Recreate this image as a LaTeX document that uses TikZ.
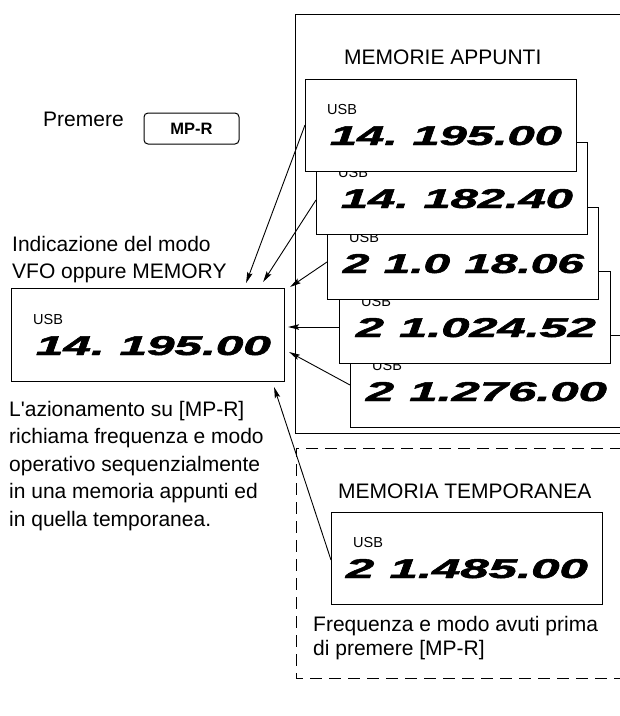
\documentclass[tikz,border=0pt]{standalone}
\usepackage{fontspec}
\setmainfont{Liberation Sans}
\newfontfamily\lcdfont{Liberation Sans}[FakeBold=1.6]
\usetikzlibrary{arrows.meta,calc}
\tikzset{
 dispbox/.style={draw, line width=1.1pt, fill=white, minimum width=271pt, minimum height=92pt, inner sep=0pt, anchor=north west},
 usblbl/.style={anchor=base west, inner sep=0pt, font=\fontsize{14.5}{16}\selectfont},
 freqlbl/.style={anchor=base east, inner sep=0pt},
 txt/.style={anchor=base west, inner sep=0pt, font=\fontsize{21}{27}\selectfont},
 conn/.style={line width=0.9pt, -{Stealth[length=11pt,width=5.5pt,inset=2pt]}},
 frame/.style={line width=1pt},
}
\newcommand\lcdgap{\hspace{0.3em}}
\newcommand\drawdisplay[5]{%
 \node[dispbox] (#1) at (#2,#3) {};
 \node[usblbl] (#1u) at ($(#1.north west)+(22,35)$) {USB};
 \node[freqlbl] (#1f) at ($(#1.north east)+(-15,66)$) {\resizebox{#4pt}{19pt}{\lcdfont\bfseries\itshape #5}};
}
\begin{document}
\begin{tikzpicture}[x=1pt,y=-1pt]
\useasboundingbox[fill=white] (0,0) rectangle (620,716);
% frames
\draw[frame] (622,14) -- (295,14) -- (295,433) -- (622,433);
\draw[frame, dash pattern=on 12pt off 7pt] (622,448) -- (296,448) -- (296,678) -- (622,678);
% top-left
\node[txt] (prem) at (43,126) {Premere};
\node[draw, rounded corners=4pt, minimum width=95pt, minimum height=31pt, line width=1pt, inner sep=0pt, font=\bfseries\fontsize{16.5}{18}\selectfont] (btn) at (191.5,128.5) {MP-R};
\node[txt] (ma) at (344,64) {MEMORIE APPUNTI};
\node[txt] (ind1) at (12,251) {Indicazione del modo};
\node[txt] (ind2) at (12,278) {VFO oppure MEMORY};
% stacked displays
\drawdisplay{b5}{350}{335}{241}{2\lcdgap1.276.00}
\drawdisplay{b4}{339}{271}{240}{2\lcdgap1.024.52}
\drawdisplay{b3}{327}{207}{241}{2\lcdgap1.0\lcdgap18.06}
\drawdisplay{b2}{316}{142}{232}{14.\lcdgap182.40}
\drawdisplay{b1}{305}{79}{232}{14.\lcdgap195.00}
% main display
\node[dispbox, minimum width=273pt, minimum height=93pt] (main) at (11,288) {};
\node[usblbl] (mainu) at ($(main.north west)+(22,36)$) {USB};
\node[freqlbl] (mainf) at ($(main.north east)+(-14,67)$) {\resizebox{235pt}{19pt}{\lcdfont\bfseries\itshape 14.\lcdgap195.00}};
% paragraph
\node[txt] (p1) at (9,416) {L\textquotesingle azionamento su [MP-R]};
\node[txt] (p2) at (9,443) {richiama frequenza e modo};
\node[txt] (p3) at (9,471) {operativo sequenzialmente};
\node[txt] (p4) at (9,498) {in una memoria appunti ed};
\node[txt] (p5) at (9,526) {in quella temporanea.};
% temporary memory
\node[txt] (mt) at (338,498) {MEMORIA TEMPORANEA};
\drawdisplay{tmp}{331}{512}{242}{2\lcdgap1.485.00}
\node[txt] (f1) at (313,631) {Frequenza e modo avuti prima};
\node[txt] (f2) at (313,655) {di premere [MP-R]};
% connectors
\draw[conn] ($(b1.north west)+(0,46)$) -- ($(main.north east)+(-39,-5)$);
\draw[conn] ($(b2.north west)+(0,58)$) -- ($(main.north east)+(-22,-6)$);
\draw[conn] ($(b3.north west)+(0,55)$) -- ($(main.north east)+(5,-1)$);
\draw[conn] ($(b4.north west)+(0,56)$) -- ($(main.north east)+(3,39)$);
\draw[conn] ($(b5.north west)+(0,50)$) -- ($(main.north east)+(4,64)$);
\draw[conn] ($(tmp.north west)+(0,48)$) -- ($(main.south east)+(-11,5)$);
\end{tikzpicture}
\end{document}
